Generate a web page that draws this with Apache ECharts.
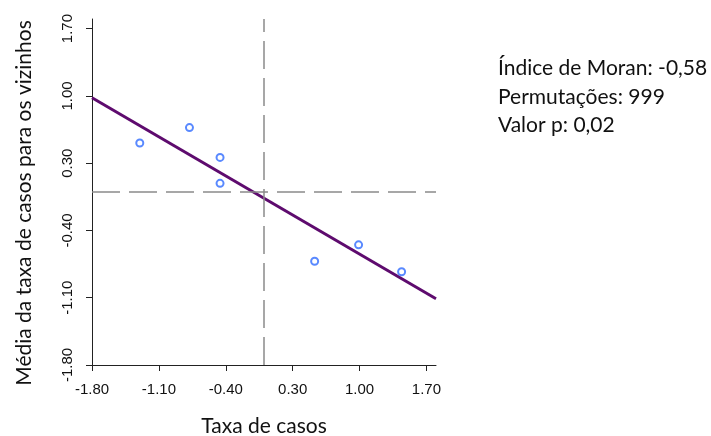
<!DOCTYPE html>
<html>
<head>
<meta charset="utf-8">
<script src="https://cdn.jsdelivr.net/npm/echarts@6/dist/echarts.min.js"></script>
<style>
    html, body { margin: 0; padding: 0; background: #fff; }
    #chart { width: 711px; height: 436px; }
</style>
</head>
<body>
<div id="chart"></div>
<script>
    // taxa padronizada (x) e média dos vizinhos (y)
    const taxaCasos = [-1.30, -0.78, -0.46, -0.46, 0.53, 0.99, 1.44];
    const mediaVizinhos = [0.51, 0.67, 0.36, 0.09, -0.72, -0.55, -0.83];
    const tickValues = [-1.8, -1.1, -0.4, 0.3, 1.0, 1.7];
    const retaX = [-1.8, 1.8];
    const retaY = [0.98, -1.11];
    const mediaX = 0;
    const mediaY = 0;
    const textos = ['Índice de Moran: -0,58', 'Permutações: 999', 'Valor p: 0,02'];

    const tituloFont = 'Lato, "Open Sans", sans-serif';
    const tickFont = '"Liberation Sans", Arial, sans-serif';

    const pontos = taxaCasos.map((x, i) => [x, mediaVizinhos[i]]);
    const reta = retaX.map((x, i) => [x, retaY[i]]);

    const eixo = (nome, gap, rotate, padding) => ({
        type: 'value',
        min: -1.8,
        max: 1.8,
        interval: 0.7,
        name: nome,
        nameLocation: 'middle',
        nameGap: gap,
        nameTextStyle: { fontFamily: tituloFont, fontSize: 21, color: '#111', padding: padding },
        axisLine: { show: true, onZero: false, lineStyle: { color: '#222', width: 1 } },
        axisTick: { show: true, length: 6, customValues: tickValues, lineStyle: { color: '#222' } },
        axisLabel: {
            customValues: tickValues,
            rotate: rotate,
            margin: 17,
            fontFamily: tickFont,
            fontSize: 15,
            color: '#111',
            formatter: v => v.toFixed(2)
        },
        splitLine: { show: false }
    });

    const chart = echarts.init(document.getElementById('chart'));
    chart.setOption({
        animation: false,
        grid: { left: 92, right: 275, top: 19, bottom: 71, outerBoundsMode: 'none', containLabel: false },
        xAxis: eixo('Taxa de casos', 51, 0, 0),
        yAxis: eixo('Média da taxa de casos para os vizinhos', 57, 90, [0, 22, 0, 0]),
        graphic: textos.map((t, i) => ({
            type: 'text',
            left: 498,
            top: 58 + i * 28.5,
            style: { text: t, font: '21px ' + tituloFont, fill: '#111' }
        })),
        series: [
            {
                type: 'line',
                data: reta,
                symbol: 'none',
                lineStyle: { color: '#5e0b6e', width: 3 },
                z: 3
            },
            {
                type: 'scatter',
                data: pontos,
                symbol: 'emptyCircle',
                symbolSize: 7,
                itemStyle: { color: '#2f6bff', borderWidth: 1.5 },
                z: 4,
                markLine: {
                    silent: true,
                    symbol: 'none',
                    label: { show: false },
                    lineStyle: { color: '#8a8a8a', width: 1.5, type: [28, 9] },
                    data: [{ xAxis: mediaX }, { yAxis: mediaY }]
                }
            }
        ]
    });
</script>
</body>
</html>
